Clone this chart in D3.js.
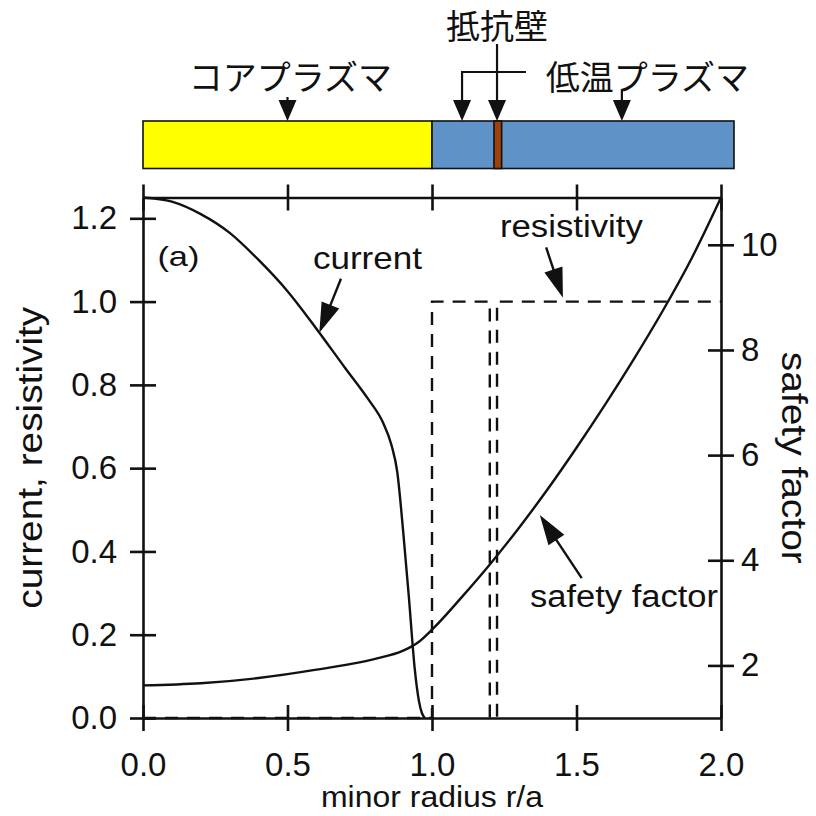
<!DOCTYPE html>
<html>
<head>
<meta charset="utf-8">
<script src="https://cdn.jsdelivr.net/npm/d3@7"></script>
<style>
  body { margin: 0; background: #fff; }
  text { font-family: "Liberation Sans", Arial, sans-serif; fill: #111; }
  text.jp { font-family: "Noto Sans CJK JP", sans-serif; }
</style>
</head>
<body>
<svg id="chart" width="816" height="816"></svg>
<script>
// ---- data ----
const currentRadius = [0, 0.1, 0.2, 0.3, 0.4, 0.5, 0.6, 0.7, 0.78, 0.83, 0.86, 0.88, 0.9, 0.92, 0.94, 0.955, 0.965, 0.975];
const currentValue  = [1.25, 1.24, 1.21, 1.165, 1.10, 1.025, 0.935, 0.84, 0.765, 0.71, 0.655, 0.59, 0.45, 0.29, 0.12, 0.04, 0.012, 0];

const safetyRadius = [0, 0.2, 0.4, 0.6, 0.8, 0.9, 0.95, 1.0, 1.1, 1.2, 1.3, 1.4, 1.5, 1.6, 1.7, 1.8, 1.9, 2.0];
const safetyValue  = [1.62, 1.66, 1.76, 1.92, 2.12, 2.28, 2.43, 2.68, 3.28, 3.92, 4.61, 5.35, 6.14, 6.97, 7.84, 8.76, 9.76, 10.9];

const resistRadius = [0, 1.0, 1.0, 1.2, 1.2, 1.225, 1.225, 2.0];
const resistValue  = [0, 0, 1, 1, 0, 0, 1, 1];

const xTicks = [0, 0.5, 1.0, 1.5, 2.0];
const leftTicks = [0, 0.2, 0.4, 0.6, 0.8, 1.0, 1.2];
const rightTicks = [2, 4, 6, 8, 10];

// schematic bar of the radial regions (in r/a units)
const regionName  = ["core", "cold", "wall"];
const regionFrom  = [0, 1.0, 1.2145];
const regionTo    = [1.0, 2.045, 1.241];
const regionColor = ["#FFFF00", "#5F93C8", "#A0400A"];

// ---- layout ----
const svg = d3.select("#chart");
const L = 143, R = 721, T = 197.5, B = 718;
const x = d3.scaleLinear().domain([0, 2]).range([L, R]);
const yL = d3.scaleLinear().domain([0, 1.25]).range([B, T]);
const yR = d3.scaleLinear().domain([1.0, 10.9]).range([B, T]);
const TK = 13;
const INK = "#111";

// ---- region bar ----
const barTop = 121, barBot = 168.5;
const bar = svg.append("g");
regionName.forEach((n, i) => {
  bar.append("rect")
    .attr("x", x(regionFrom[i])).attr("y", barTop)
    .attr("width", x(regionTo[i]) - x(regionFrom[i]))
    .attr("height", barBot - barTop)
    .attr("fill", regionColor[i])
    .attr("stroke", INK).attr("stroke-width", 1.6);
});

function arrow(g, pts, headLen, headW, sw) {
  // pts: polyline, last point is the tip
  const n = pts.length;
  const [x1, y1] = pts[n - 1], [x0, y0] = pts[n - 2];
  const dx = x1 - x0, dy = y1 - y0, len = Math.hypot(dx, dy);
  const ux = dx / len, uy = dy / len;
  const bx = x1 - ux * headLen, by = y1 - uy * headLen;
  const linePts = pts.slice(0, n - 1).concat([[bx + ux * 2, by + uy * 2]]);
  g.append("path").attr("d", d3.line()(linePts))
    .attr("fill", "none").attr("stroke", INK).attr("stroke-width", sw);
  g.append("path")
    .attr("d", d3.line()([[x1, y1], [bx - uy * headW / 2, by + ux * headW / 2], [bx + uy * headW / 2, by - ux * headW / 2]]) + "Z")
    .attr("fill", INK);
}

const ann = svg.append("g");
// bar labels
ann.append("text").attr("class", "jp").attr("x", x(0.51)).attr("y", 90)
  .attr("text-anchor", "middle").attr("font-size", 34).text("コアプラズマ");
ann.append("text").attr("class", "jp").attr("x", x(1.225)).attr("y", 39)
  .attr("text-anchor", "middle").attr("font-size", 34).text("抵抗壁");
ann.append("text").attr("class", "jp").attr("x", x(1.745)).attr("y", 90)
  .attr("text-anchor", "middle").attr("font-size", 34).text("低温プラズマ");

arrow(ann, [[x(0.5), 97], [x(0.5), barTop]], 21, 18, 2.2);
arrow(ann, [[x(1.225), 44], [x(1.225), barTop]], 21, 18, 2.2);
arrow(ann, [[x(1.325), 72], [x(1.104), 72], [x(1.104), barTop]], 21, 18, 2.2);
arrow(ann, [[x(1.657), 89], [x(1.657), barTop]], 21, 18, 2.2);

// ---- curves ----
const plot = svg.append("g");
const lineL = d3.line().x(d => x(d[0])).y(d => yL(d[1]));
const lineR = d3.line().x(d => x(d[0])).y(d => yR(d[1]));

plot.append("path")
  .attr("d", lineL(resistRadius.map((r, i) => [r, resistValue[i]])))
  .attr("fill", "none").attr("stroke", INK).attr("stroke-width", 2.4)
  .attr("stroke-dasharray", "13,9");

plot.append("path")
  .attr("d", lineL.curve(d3.curveMonotoneX)(currentRadius.map((r, i) => [r, currentValue[i]])))
  .attr("fill", "none").attr("stroke", INK).attr("stroke-width", 2.4);

plot.append("path")
  .attr("d", lineR.curve(d3.curveMonotoneX)(safetyRadius.map((r, i) => [r, safetyValue[i]])))
  .attr("fill", "none").attr("stroke", INK).attr("stroke-width", 2.4);

// ---- axes ----
function styleAxis(g, cross) {
  g.select(".domain").attr("stroke", INK).attr("stroke-width", 2.6);
  g.selectAll(".tick line").attr("stroke", INK).attr("stroke-width", 2.6).each(cross);
  g.selectAll(".tick text").attr("font-size", 33).attr("fill", INK)
    .style("font-family", '"Liberation Sans", Arial, sans-serif');
}

const gb = svg.append("g").attr("transform", `translate(0,${B})`)
  .call(d3.axisBottom(x).tickValues(xTicks).tickFormat(d3.format(".1f"))
    .tickSize(TK).tickSizeOuter(0).tickPadding(22));
styleAxis(gb, function () { d3.select(this).attr("y1", -TK); });

const gt = svg.append("g").attr("transform", `translate(0,${T})`)
  .call(d3.axisTop(x).tickValues(xTicks).tickFormat("").tickSize(TK).tickSizeOuter(0));
styleAxis(gt, function () { d3.select(this).attr("y1", TK); });

const gl = svg.append("g").attr("transform", `translate(${L},0)`)
  .call(d3.axisLeft(yL).tickValues(leftTicks).tickFormat(d3.format(".1f"))
    .tickSize(TK).tickSizeOuter(0).tickPadding(13));
styleAxis(gl, function () { d3.select(this).attr("x1", TK); });

const gr = svg.append("g").attr("transform", `translate(${R},0)`)
  .call(d3.axisRight(yR).tickValues(rightTicks).tickFormat(d3.format("d"))
    .tickSize(TK).tickSizeOuter(0).tickPadding(7));
styleAxis(gr, function () { d3.select(this).attr("x1", -TK); });

// ---- titles ----
svg.append("text").attr("transform", `translate(42,${(T + B) / 2}) rotate(-90)`)
  .attr("text-anchor", "middle").attr("font-size", 35)
  .attr("textLength", 302).attr("lengthAdjust", "spacingAndGlyphs")
  .text("current, resistivity");
svg.append("text").attr("transform", `translate(782,${(T + B) / 2}) rotate(90)`)
  .attr("text-anchor", "middle").attr("font-size", 35)
  .attr("textLength", 212).attr("lengthAdjust", "spacingAndGlyphs")
  .text("safety factor");
svg.append("text").attr("x", (L + R) / 2).attr("y", 807)
  .attr("text-anchor", "middle").attr("font-size", 30)
  .attr("textLength", 222).attr("lengthAdjust", "spacingAndGlyphs")
  .text("minor radius r/a");

// ---- annotations inside the plot ----
ann.append("text").attr("x", x(0.05)).attr("y", yL(1.085)).attr("font-size", 28)
  .attr("textLength", 42).attr("lengthAdjust", "spacingAndGlyphs").text("(a)");
ann.append("text").attr("x", x(0.588)).attr("y", yL(1.079)).attr("font-size", 32)
  .attr("textLength", 109).attr("lengthAdjust", "spacingAndGlyphs").text("current");
ann.append("text").attr("x", x(1.235)).attr("y", yL(1.156)).attr("font-size", 31)
  .attr("textLength", 143).attr("lengthAdjust", "spacingAndGlyphs").text("resistivity");
ann.append("text").attr("x", x(1.339)).attr("y", yL(0.267)).attr("font-size", 31)
  .attr("textLength", 188).attr("lengthAdjust", "spacingAndGlyphs").text("safety factor");

arrow(ann, [[x(0.685), yL(1.055)], [x(0.61), yL(0.925)]], 30, 19, 2.4);
arrow(ann, [[x(1.395), yL(1.13)], [x(1.453), yL(1.009)]], 30, 19, 2.4);
arrow(ann, [[x(1.518), yR(3.66)], [x(1.373), yR(4.86)]], 30, 19, 2.4);
</script>
</body>
</html>
